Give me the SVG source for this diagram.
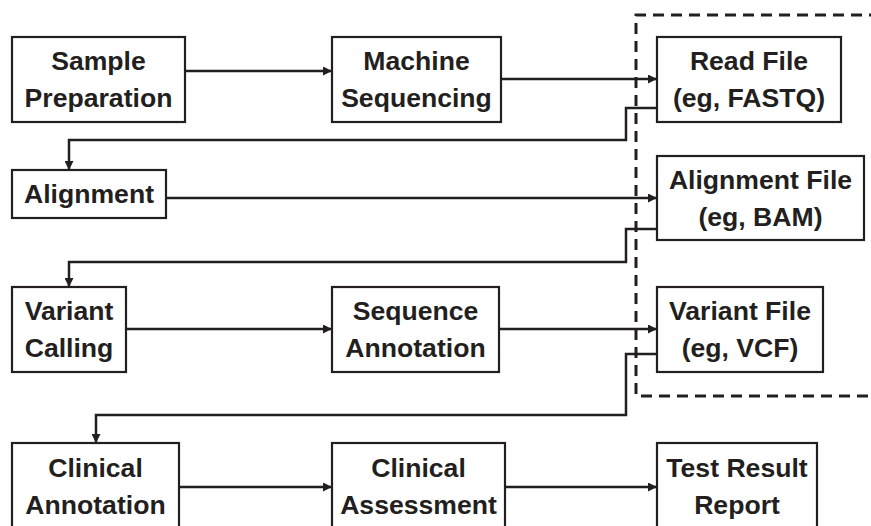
<svg xmlns="http://www.w3.org/2000/svg" width="871" height="526" viewBox="0 0 871 526">
<defs>
<style>
.box{fill:#fff;stroke:#231f20;stroke-width:2.2}
.lbl{font-family:"Liberation Sans",Arial,sans-serif;font-weight:bold;font-size:26.6px;fill:#231f20;text-anchor:middle}
.conn{fill:none;stroke:#231f20;stroke-width:2.5}
.dash{fill:none;stroke:#231f20;stroke-width:3;stroke-dasharray:11 7}
</style>
<marker id="arr" viewBox="0 0 10 10" refX="10" refY="5" markerUnits="userSpaceOnUse" markerWidth="10" markerHeight="9" orient="auto">
<path d="M0,0 L10,5 L0,10 z" fill="#231f20"/>
</marker>
</defs>
<rect width="871" height="526" fill="#fff"/>
<path class="dash" d="M880,15 H636 V396 H880"/>
<g id="connectors">
<path class="conn" marker-end="url(#arr)" d="M185,71 H332"/>
<path class="conn" marker-end="url(#arr)" d="M501,79 H657"/>
<path class="conn" marker-end="url(#arr)" d="M657,108 H626 V140 H69 V170"/>
<path class="conn" marker-end="url(#arr)" d="M166,198 H657"/>
<path class="conn" marker-end="url(#arr)" d="M657,229 H626 V262 H69 V287"/>
<path class="conn" marker-end="url(#arr)" d="M126,329 H332"/>
<path class="conn" marker-end="url(#arr)" d="M499,329 H657"/>
<path class="conn" marker-end="url(#arr)" d="M657,354 H626 V415 H96 V443"/>
<path class="conn" marker-end="url(#arr)" d="M179,487 H332"/>
<path class="conn" marker-end="url(#arr)" d="M505,487 H657"/>
</g>
<g id="sample-prep">
<rect class="box" x="12" y="37" width="173" height="85"/>
<text class="lbl" x="98.5" y="70">Sample</text>
<text class="lbl" x="98.5" y="107">Preparation</text>
</g>
<g id="machine-seq">
<rect class="box" x="332" y="37" width="169" height="85"/>
<text class="lbl" x="416.5" y="70">Machine</text>
<text class="lbl" x="416.5" y="107">Sequencing</text>
</g>
<g id="read-file">
<rect class="box" x="657" y="37" width="184" height="85"/>
<text class="lbl" x="749" y="70">Read File</text>
<text class="lbl" x="749" y="107">(eg, FASTQ)</text>
</g>
<g id="alignment">
<rect class="box" x="12" y="170" width="154" height="48"/>
<text class="lbl" x="89" y="203">Alignment</text>
</g>
<g id="alignment-file">
<rect class="box" x="657" y="156" width="207" height="84"/>
<text class="lbl" x="760.5" y="188.5">Alignment File</text>
<text class="lbl" x="760.5" y="225.5">(eg, BAM)</text>
</g>
<g id="variant-calling">
<rect class="box" x="12" y="287" width="114" height="85"/>
<text class="lbl" x="69" y="320">Variant</text>
<text class="lbl" x="69" y="357">Calling</text>
</g>
<g id="sequence-annotation">
<rect class="box" x="332" y="287" width="167" height="85"/>
<text class="lbl" x="415.5" y="320">Sequence</text>
<text class="lbl" x="415.5" y="357">Annotation</text>
</g>
<g id="variant-file">
<rect class="box" x="657" y="287" width="166" height="85"/>
<text class="lbl" x="740" y="320">Variant File</text>
<text class="lbl" x="740" y="357">(eg, VCF)</text>
</g>
<g id="clinical-annotation">
<rect class="box" x="12" y="443" width="167" height="90"/>
<text class="lbl" x="95.5" y="477">Clinical</text>
<text class="lbl" x="95.5" y="514">Annotation</text>
</g>
<g id="clinical-assessment">
<rect class="box" x="332" y="443" width="173" height="90"/>
<text class="lbl" x="418.5" y="477">Clinical</text>
<text class="lbl" x="418.5" y="514">Assessment</text>
</g>
<g id="test-result">
<rect class="box" x="657" y="443" width="160" height="90"/>
<text class="lbl" x="737" y="477">Test Result</text>
<text class="lbl" x="737" y="514">Report</text>
</g>
</svg>
